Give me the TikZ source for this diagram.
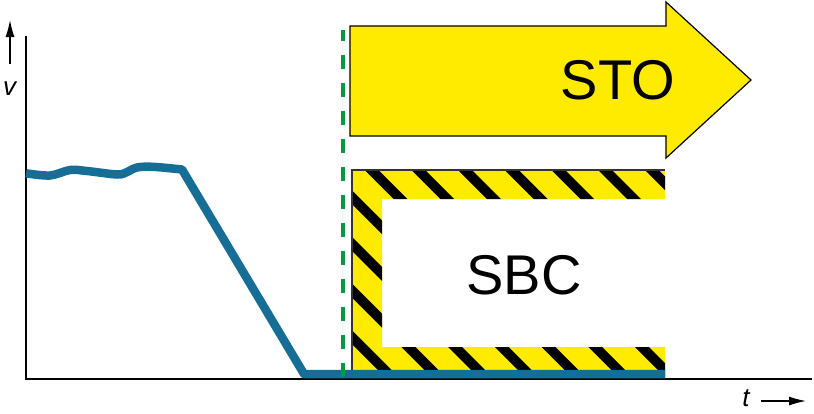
\documentclass[tikz,border=0pt]{standalone}
\usepackage{fontspec}
\setmainfont{Liberation Sans}
\usetikzlibrary{arrows.meta}
\definecolor{curveblue}{RGB}{22,110,150}
\definecolor{signyellow}{RGB}{255,235,0}
\definecolor{dashgreen}{RGB}{0,155,65}
\tikzset{
  axisline/.style={line width=1.3pt, black},
  axisarrow/.style={line width=1.3pt, black, -{Latex[length=17pt,width=9pt]}},
  speedcurve/.style={line width=8.5pt, curveblue, line join=round},
  stopline/.style={line width=4pt, dashgreen, dash pattern=on 14pt off 14pt, dash phase=3pt},
  stoarrow/.style={fill=signyellow, draw=black, line width=1.2pt, line join=miter},
  bigtext/.style={font=\fontsize{56}{60}\selectfont, inner sep=0pt},
  axislabel/.style={font=\fontsize{26}{30}\selectfont\itshape, inner sep=0pt},
  hatchline/.style={line width=9.8pt, black},
  frameedge/.style={line width=1.2pt, black!80}
}
\begin{document}
\begin{tikzpicture}[x=1pt, y=-1pt]
\useasboundingbox (0,0) rectangle (814,413);
% axes
\coordinate (yaxtop) at (26,36);
\coordinate (origin) at (26,379);
\coordinate (xaxend) at (812,379);
\draw[axisline] (yaxtop) -- (origin) -- (xaxend);
\coordinate (vfrom) at (10,64);
\coordinate (vto) at (10,20);
\draw[axisarrow] (vfrom) -- (vto);
\node[axislabel] (vlab) at (9.5,89) {v};
\coordinate (tfrom) at (761,401);
\coordinate (tto) at (806,401);
\draw[axisarrow] (tfrom) -- (tto);
\node[axislabel] (tlab) at (746,398) {t};
% STO arrow
\draw[stoarrow] (350,26) -- (666,26) -- (666,2) -- (751,80) -- (666,158) -- (666,136) -- (350,136) -- cycle;
\node[bigtext] (sto) at (618,80) {STO};
% SBC hatched frame
\begin{scope}
  \clip (352,170) -- (665,170) -- (665,199) -- (382,199) -- (382,347) -- (665,347) -- (665,377) -- (352,377) -- cycle;
  \fill[signyellow] (340,160) rectangle (680,390);
  \foreach \k in {-6,...,8} {
    \pgfmathsetmacro{\c}{201.5+46.7*\k}
    \draw[hatchline] (\c+160,160) -- (\c+390,390);
  }
\end{scope}
\draw[frameedge] (352,377) -- (352,170) -- (665,170);
\node[bigtext] (sbc) at (524,275) {SBC};
% speed curve
\draw[speedcurve] plot[smooth, tension=0.55] coordinates {(26,173.3) (50,175.5) (70,170) (87,171) (117,174.5) (126,172.5) (137,167.5) (153,166.8) (182,169.5)} -- (304,374) -- (665,374);
% stop instant
\coordinate (stoptop) at (343,30);
\coordinate (stopbot) at (343,379);
\draw[stopline] (stoptop) -- (stopbot);
\end{tikzpicture}
\end{document}
